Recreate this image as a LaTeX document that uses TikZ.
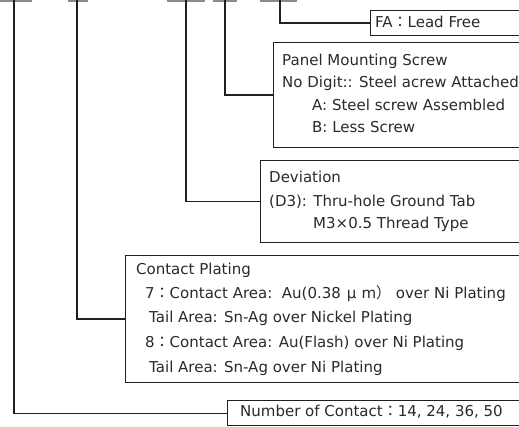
\documentclass[tikz,border=0pt]{standalone}
\usepackage{fontspec}
\setmainfont{DejaVu Sans}
\newfontfamily\cjk{Noto Sans CJK JP}
\definecolor{ink}{HTML}{231F20}
\definecolor{txt}{HTML}{2A2A2A}
\definecolor{bar}{HTML}{8A8A8A}
\begin{document}
\begin{tikzpicture}[x=1pt,y=-1pt,
  conn/.style={draw=ink,line width=1.3pt},
  boxstyle/.style={draw=ink,line width=1.3pt,fill=white,rectangle,inner sep=0pt},
  lbl/.style={anchor=base west,inner sep=0pt,text=txt,font=\fontsize{15}{18}\selectfont},
  barline/.style={draw=bar,line width=1.6pt}]
\useasboundingbox (0,0) rectangle (519,427);
\clip (0,0) rectangle (519,427);
% part-number underline bars
\draw[barline] (0,0.8) -- (32,0.8);
\draw[barline] (68,0.8) -- (88,0.8);
\draw[barline] (167,0.8) -- (205,0.8);
\draw[barline] (213,0.8) -- (237,0.8);
\draw[barline] (260,0.8) -- (297,0.8);
\coordinate (p1) at (14,0);
\coordinate (p2) at (77,0);
\coordinate (p3) at (186,0);
\coordinate (p4) at (225,0);
\coordinate (p5) at (280,0);
% boxes
\node[boxstyle,minimum width=155,minimum height=25,anchor=north west] (fa) at (370,10) {};
\node[boxstyle,minimum width=252,minimum height=105,anchor=north west] (panel) at (273,42) {};
\node[boxstyle,minimum width=265,minimum height=82,anchor=north west] (dev) at (260,160) {};
\node[boxstyle,minimum width=400,minimum height=127,anchor=north west] (cp) at (125,255) {};
\node[boxstyle,minimum width=298,minimum height=25,anchor=north west] (num) at (227,400) {};
% connectors
\draw[conn] (p5) |- (fa.west);
\draw[conn] (p4) |- (panel.west);
\draw[conn] (p3) |- (dev.west);
\draw[conn] (p2) |- (cp.west);
\draw[conn] (p1) |- (num.west);
% texts
\node[lbl] (t1) at (375,27.5) {FA{\cjk ：}Lead Free};
\node[lbl] (t2) at (282,65.5) {Panel Mounting Screw};
\node[lbl] (t3) at (282,88) {No Digit:: Steel acrew Attached};
\node[lbl] (t4) at (312,111) {A: Steel screw Assembled};
\node[lbl] (t5) at (312,133) {B: Less Screw};
\node[lbl] (t6) at (269,183) {Deviation};
\node[lbl] (t7) at (269,207) {(D3): Thru-hole Ground Tab};
\node[lbl] (t8) at (313,229) {M3×0.5 Thread Type};
\node[lbl] (t9) at (136,275) {Contact Plating};
\node[lbl] (t10) at (145,299) {7{\cjk ：}Contact Area:\ \ Au(0.38\hspace{6pt}μ\hspace{5pt}m{\cjk ）} over Ni Plating};
\node[lbl] (t11) at (149,323) {Tail Area: Sn-Ag over Nickel Plating};
\node[lbl] (t12) at (145,348) {8{\cjk ：}Contact Area: Au(Flash) over Ni Plating};
\node[lbl] (t13) at (149,372) {Tail Area: Sn-Ag over Ni Plating};
\node[lbl] (t14) at (240,416.5) {Number of Contact{\cjk ：}14, 24, 36, 50};
\end{tikzpicture}
\end{document}
